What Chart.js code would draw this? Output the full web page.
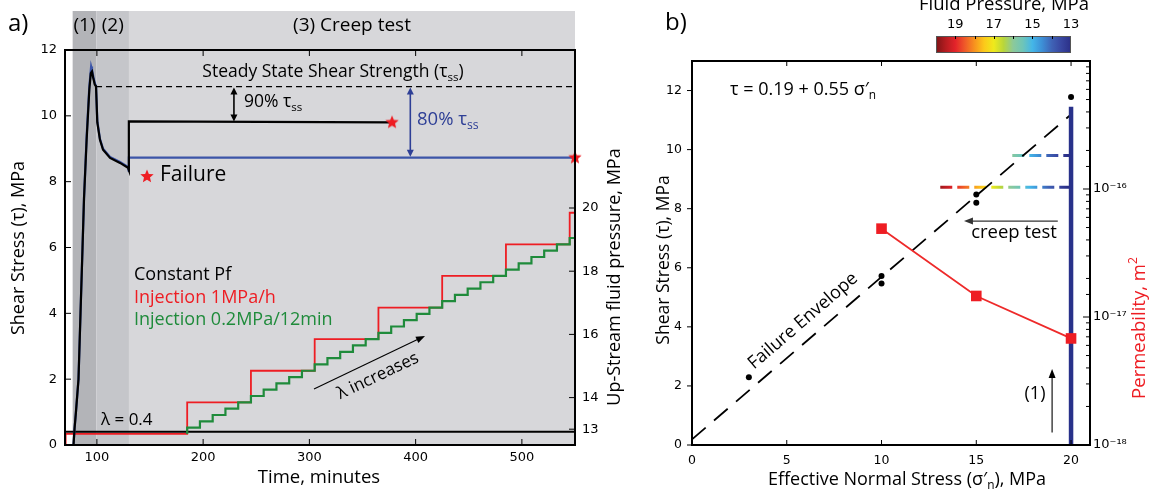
<!DOCTYPE html>
<html><head><meta charset="utf-8">
<script src="https://cdn.jsdelivr.net/npm/chart.js@4.4.1/dist/chart.umd.min.js"></script>
<style>html,body{margin:0;padding:0;background:#fff}body{width:1151px;height:494px;position:relative;overflow:hidden}canvas{position:absolute;top:0}#ca{left:0}#cb{left:640px}</style>
</head><body>
<canvas id="ca" width="640" height="494"></canvas>
<canvas id="cb" width="511" height="494"></canvas>
<script>
// ================= DATA : panel a =================
const phaseBounds = [77.2, 99.6, 130.2, 550];
const phaseLabels = ['(1)', '(2)', '(3) Creep test'];
const phaseColors = ['#b3b4b8', '#c5c6ca', '#d7d7da'];
const timeTicks = [100, 200, 300, 400, 500];
const tauTicksA = [0, 2, 4, 6, 8, 10, 12];
const pfTicks = [13, 14, 16, 18, 20];

const blackTime = [78.0, 79.0, 80.3, 82.7, 84.6, 86.5, 87.9, 90.4, 92.9, 94.3, 95.4, 96.6, 98.0, 99.2, 100.4, 102.9, 105.8, 112.4, 121.8, 129.3, 130.0, 130.2, 377.8];
const blackTau  = [0, 0.5, 1, 2, 4, 6, 7.5, 9.3, 10.8, 11.3, 11.35, 11.15, 10.95, 10.9, 9.8, 9.27, 8.97, 8.72, 8.57, 8.42, 8.35, 9.83, 9.8];
const blueTime  = [78.0, 79.0, 80.3, 82.7, 84.6, 86.5, 87.9, 90.4, 92.9, 94.6, 95.4, 96.6, 98.0, 99.2, 100.4, 102.9, 105.8, 112.4, 121.8, 129.3, 130.0, 130.2, 550];
const blueTau   = [0, 0.5, 1, 2, 4, 6, 7.5, 9.4, 10.9, 11.5, 11.4, 11.2, 11.0, 10.9, 9.85, 9.3, 9.0, 8.75, 8.6, 8.45, 8.3, 8.73, 8.73];

const ssTime = [99.2, 550];
const ssTau = [10.89, 10.89];
const constTime = [70, 550];
const constPf = [12.92, 12.92];
const redTime = [70.6, 70.6, 185, 245, 305, 365, 425, 485, 545, 550];
const redPf   = [12.5, 12.85, 13.85, 14.85, 15.85, 16.85, 17.85, 18.85, 19.85, 19.85];
const greenTime = [185, 185, 197, 209, 221, 233, 245, 257, 269, 281, 293, 305, 317, 329, 341, 353, 365, 377, 389, 401, 413, 425, 437, 449, 461, 473, 485, 497, 509, 521, 533, 545, 550];
const greenPf   = [12.85, 13.05, 13.25, 13.45, 13.65, 13.85, 14.05, 14.25, 14.45, 14.65, 14.85, 15.05, 15.25, 15.45, 15.65, 15.85, 16.05, 16.25, 16.45, 16.65, 16.85, 17.05, 17.25, 17.45, 17.65, 17.85, 18.05, 18.25, 18.45, 18.65, 18.85, 19.05, 19.05];
const starTime = [377.8, 550];
const starTau = [9.8, 8.73];
const arrow90 = { t: 229, from: 10.89, to: 9.8 };
const arrow80 = { t: 395, from: 10.89, to: 8.73 };

// ================= DATA : panel b =================
const sigmaTicks = [0, 5, 10, 15, 20];
const tauTicksB = [0, 2, 4, 6, 8, 10, 12];
const permLabelExps = [-16, -17, -18];
const failSigma = [3, 10, 10, 15, 15, 20];
const failTau = [2.29, 5.47, 5.72, 8.2, 8.48, 11.78];
const envSigma = [0, 20];
const envTau = [0.19, 11.19];
const loadSigma = [20, 20];
const loadTau = [0, 11.45];
const creep80Sigma = [13.1, 20];
const creep80Tau = [8.73, 8.73];
const creep90Sigma = [16.9, 20];
const creep90Tau = [9.8, 9.8];
const permSigma = [10, 15, 20];
const permVal = [4.9e-17, 1.46e-17, 6.8e-18];
const sigmaN = 32.8;
const cbTicks = [19, 17, 15, 13];
const cmapPf = [20, 19.5, 19, 18.5, 18, 17.5, 17, 16.5, 16, 15.5, 15, 14.5, 14, 13.5, 13];
const cmapColors = ['#7d1416', '#b51c20', '#e3232a', '#ef5a29', '#f7931e', '#fcc91a', '#eeea1c', '#b9d63a', '#8cc99a', '#6ec5b8', '#44b6e8', '#3d8fd6', '#3f63b6', '#3846a0', '#2b2f87'];

// ================= helpers =================
const zip = (xs, ys) => xs.map((x, i) => ({ x, y: ys[i] }));
const F = "'Open Sans', 'Noto Sans', sans-serif";
const TF = { family: "'DejaVu Sans', sans-serif", size: 13 };
const TFB = { family: "'DejaVu Sans', sans-serif", size: 12.5 };
const noGrid = { display: false, drawTicks: false, tickLength: 0 };

function rich(ctx, parts, x, y, size, color, align, angle) {
  ctx.save(); ctx.translate(x, y); if (angle) ctx.rotate(angle);
  let w = 0;
  const segs = parts.map(p => {
    const t = Array.isArray(p) ? p[0] : p, k = Array.isArray(p) ? (p[1] || '') : '';
    const s = k ? size * 0.66 : size;
    ctx.font = s + 'px ' + F;
    const m = ctx.measureText(t).width; w += m;
    return { t, k, s, m };
  });
  let cx = align === 'center' ? -w / 2 : align === 'right' ? -w : 0;
  ctx.fillStyle = color; ctx.textBaseline = 'middle'; ctx.textAlign = 'left';
  for (const g of segs) {
    ctx.font = g.s + 'px ' + F;
    const dy = g.k === 'sub' ? size * 0.3 : g.k === 'sup' ? -size * 0.35 : 0;
    ctx.fillText(g.t, cx, dy); cx += g.m;
  }
  ctx.restore();
}
function head(ctx, x1, y1, x2, y2, L, W) {
  const a = Math.atan2(y2 - y1, x2 - x1);
  ctx.beginPath();
  ctx.moveTo(x2, y2);
  ctx.lineTo(x2 - L * Math.cos(a) + W * Math.sin(a), y2 - L * Math.sin(a) - W * Math.cos(a));
  ctx.lineTo(x2 - L * Math.cos(a) - W * Math.sin(a), y2 - L * Math.sin(a) + W * Math.cos(a));
  ctx.closePath(); ctx.fill();
}
function arrow(ctx, x1, y1, x2, y2, color, lw, both, L, W) {
  L = L || 8; W = W || 3.5;
  ctx.save(); ctx.strokeStyle = color; ctx.fillStyle = color; ctx.lineWidth = lw;
  const a = Math.atan2(y2 - y1, x2 - x1);
  const sx = both ? x1 + L * 0.8 * Math.cos(a) : x1, sy = both ? y1 + L * 0.8 * Math.sin(a) : y1;
  ctx.beginPath(); ctx.moveTo(sx, sy); ctx.lineTo(x2 - L * 0.8 * Math.cos(a), y2 - L * 0.8 * Math.sin(a)); ctx.stroke();
  head(ctx, x1, y1, x2, y2, L, W);
  if (both) head(ctx, x2, y2, x1, y1, L, W);
  ctx.restore();
}
function starPath(ctx, cx, cy, r) {
  ctx.beginPath();
  for (let i = 0; i < 10; i++) {
    const rr = i % 2 ? r * 0.45 : r, a = -Math.PI / 2 + i * Math.PI / 5;
    ctx.lineTo(cx + rr * Math.cos(a), cy + rr * Math.sin(a));
  }
  ctx.closePath();
}
function starImage(r, color) {
  const c = document.createElement('canvas'); c.width = c.height = 2 * r + 2;
  const g = c.getContext('2d'); g.fillStyle = color; starPath(g, r + 1, r + 1, r); g.fill();
  return c;
}

const tickMarks = {
  id: 'tickMarks',
  afterDraw(chart, args, opts) {
    const ctx = chart.ctx, a = chart.chartArea;
    ctx.save(); ctx.strokeStyle = '#000'; ctx.lineWidth = 1;
    for (const sp of opts.specs) {
      const s = chart.scales[sp.id];
      for (const t of s.ticks) {
        let p = s.getPixelForValue(t.value);
        let len = sp.len;
        if (sp.log) { const lg = Math.log10(t.value); if (Math.abs(lg - Math.round(lg)) > 1e-6) len = sp.minorLen; }
        const d = sp.inward ? 1 : -1;
        ctx.beginPath();
        if (sp.edge === 'bottom') { if (p < a.left + 1 || p > a.right - 1) continue; ctx.moveTo(p, a.bottom); ctx.lineTo(p, a.bottom - d * len); }
        if (sp.edge === 'top') { if (p < a.left + 1 || p > a.right - 1) continue; ctx.moveTo(p, a.top); ctx.lineTo(p, a.top + d * len); }
        if (sp.edge === 'left') { if (p < a.top - 0.5 || p > a.bottom + 0.5) continue; ctx.moveTo(a.left, p); ctx.lineTo(a.left + d * len, p); }
        if (sp.edge === 'right') { if (p < a.top + 1 || p > a.bottom + 0.5) continue; ctx.moveTo(a.right, p); ctx.lineTo(a.right - d * len, p); }
        ctx.stroke();
      }
    }
    ctx.lineWidth = opts.frame || 2;
    ctx.strokeRect(a.left, a.top, a.right - a.left, a.bottom - a.top);
    ctx.restore();
  }
};

// ================= panel a =================
const shadeA = {
  id: 'shadeA',
  beforeDraw(chart) {
    const ctx = chart.ctx, x = chart.scales.x, a = chart.chartArea;
    ctx.save();
    for (let i = 0; i < phaseLabels.length; i++) {
      const x1 = x.getPixelForValue(phaseBounds[i]), x2 = x.getPixelForValue(phaseBounds[i + 1]);
      ctx.fillStyle = phaseColors[i];
      ctx.fillRect(x1, 11, x2 - x1, a.bottom - 11);
    }
    ctx.restore();
  }
};
const annA = {
  id: 'annA',
  afterDraw(chart) {
    const ctx = chart.ctx, x = chart.scales.x, y = chart.scales.y;
    rich(ctx, ['a)'], 8, 24, 24, '#000', 'left');
    for (let i = 0; i < phaseLabels.length; i++) {
      const cx = (x.getPixelForValue(phaseBounds[i]) + x.getPixelForValue(phaseBounds[i + 1])) / 2;
      rich(ctx, [phaseLabels[i]], cx, 26, 19, '#000', 'center');
    }
    rich(ctx, [['Steady State Shear Strength (τ'], ['ss', 'sub'], [')']], 333, 72, 17.5, '#000', 'center');
    const ax9 = x.getPixelForValue(arrow90.t);
    arrow(ctx, ax9, y.getPixelForValue(arrow90.from) + 1, ax9, y.getPixelForValue(arrow90.to) - 1, '#000', 1.6, true, 7, 3.5);
    rich(ctx, [['90% τ'], ['ss', 'sub']], 244, 102, 17.5, '#000', 'left');
    const ax8 = x.getPixelForValue(arrow80.t);
    arrow(ctx, ax8, y.getPixelForValue(arrow80.from) + 1, ax8, y.getPixelForValue(arrow80.to) - 1, '#2e3f96', 1.6, true, 7, 3.5);
    rich(ctx, [['80% τ'], ['ss', 'sub']], 417, 120, 18.5, '#2e3f96', 'left');
    ctx.save(); ctx.fillStyle = '#ee1d23'; starPath(ctx, 147, 176.5, 7); ctx.fill(); ctx.restore();
    rich(ctx, ['Failure'], 160, 175, 21, '#000', 'left');
    rich(ctx, ['Constant Pf'], 134, 275, 18, '#000', 'left');
    rich(ctx, ['Injection 1MPa/h'], 134, 297.5, 18, '#ee1d23', 'left');
    rich(ctx, ['Injection 0.2MPa/12min'], 134, 320, 18, '#1f8b3b', 'left');
    arrow(ctx, 314, 389, 425, 336, '#000', 1.1, false, 9, 3.5);
    rich(ctx, ['λ increases'], 378, 376, 17, '#000', 'center', -0.445);
    rich(ctx, ['λ = 0.4'], 101, 420, 17, '#000', 'left');
    rich(ctx, ['Shear Stress (τ), MPa'], 19, 248, 18, '#000', 'center', -Math.PI / 2);
    rich(ctx, ['Time, minutes'], 319, 478, 18.5, '#000', 'center');
    rich(ctx, ['Up-Stream fluid pressure, MPa'], 615, 277, 18, '#000', 'center', -Math.PI / 2);
  }
};

// datasets: first in the list is drawn on top
new Chart(document.getElementById('ca'), {
  type: 'line',
  data: { datasets: [
    { data: zip(starTime, starTau), yAxisID: 'y', showLine: false, pointStyle: starImage(7, '#ee1d23'), pointRadius: 7, clip: false },
    { data: zip(blackTime, blackTau), yAxisID: 'y', borderColor: '#000', borderWidth: 2.2, pointRadius: 0 },
    { data: zip(blueTime, blueTau), yAxisID: 'y', borderColor: '#3c55a8', borderWidth: 2.2, pointRadius: 0 },
    { data: zip(ssTime, ssTau), yAxisID: 'y', borderColor: '#000', borderWidth: 1.3, borderDash: [6, 4], pointRadius: 0 },
    { data: zip(greenTime, greenPf), yAxisID: 'y2', stepped: true, borderColor: '#1f8b3b', borderWidth: 2.2, pointRadius: 0 },
    { data: zip(redTime, redPf), yAxisID: 'y2', stepped: true, borderColor: '#ee1d23', borderWidth: 1.8, pointRadius: 0 },
    { data: zip(constTime, constPf), yAxisID: 'y2', borderColor: '#000', borderWidth: 1.8, pointRadius: 0 }
  ] },
  options: {
    responsive: false, animation: false, events: [],
    layout: { padding: { top: 50, left: 0, right: 0, bottom: 0 } },
    plugins: { legend: { display: false }, tooltip: { enabled: false },
      tickMarks: { frame: 2, specs: [
        { id: 'x', edge: 'bottom', len: 6, inward: true }, { id: 'x', edge: 'top', len: 6, inward: true },
        { id: 'y', edge: 'left', len: 6, inward: true }, { id: 'y2', edge: 'right', len: 6, inward: true } ] } },
    scales: {
      x: { type: 'linear', min: 70, max: 550, afterBuildTicks: s => { s.ticks = timeTicks.map(v => ({ value: v })); },
        afterFit: s => { s.height = 49; s.paddingLeft = 0; s.paddingRight = 0; },
        grid: noGrid, border: { display: false }, ticks: { font: TF, color: '#000', padding: 5, maxRotation: 0, autoSkip: false } },
      y: { min: 0, max: 12, afterBuildTicks: s => { s.ticks = tauTicksA.map(v => ({ value: v })); }, afterFit: s => { s.width = 65; },
        grid: noGrid, border: { display: false }, ticks: { font: TF, color: '#000', padding: 8, autoSkip: false } },
      y2: { position: 'right', min: 12.5, max: 25, afterBuildTicks: s => { s.ticks = pfTicks.map(v => ({ value: v })); }, afterFit: s => { s.width = 65; },
        grid: noGrid, border: { display: false }, ticks: { font: TF, color: '#000', padding: 7, autoSkip: false } }
    }
  },
  plugins: [shadeA, tickMarks, annA]
});

// ================= panel b =================
const sup = { '-': '⁻', '0': '⁰', '1': '¹', '2': '²', '3': '³', '4': '⁴', '5': '⁵', '6': '⁶', '7': '⁷', '8': '⁸', '9': '⁹' };
const creepColor = (c) => {
  const ch = c.chart, xs = ch.scales.x;
  if (!xs || !ch.chartArea) return '#3846a0';
  const x0 = xs.getPixelForValue(12), x1 = xs.getPixelForValue(21);
  const g = ch.ctx.createLinearGradient(x0, 0, x1, 0);
  for (let i = 0; i < cmapPf.length; i++) g.addColorStop((sigmaN - cmapPf[i] - 12) / 9, cmapColors[i]);
  return g;
};
const annB = {
  id: 'annB',
  afterDraw(chart) {
    const ctx = chart.ctx, x = chart.scales.x, y = chart.scales.y;
    rich(ctx, ['b)'], 25, 23, 24, '#000', 'left');
    // colour bar (legend of the fluid-pressure colours)
    const bx0 = 296, bx1 = 431, by0 = 36, by1 = 53;
    const pfToX = pf => bx0 + (cmapPf[0] - pf) / (cmapPf[0] - cmapPf[cmapPf.length - 1]) * (bx1 - bx0);
    const g = ctx.createLinearGradient(bx0, 0, bx1, 0);
    for (let i = 0; i < cmapPf.length; i++) g.addColorStop((pfToX(cmapPf[i]) - bx0) / (bx1 - bx0), cmapColors[i]);
    ctx.save();
    ctx.fillStyle = g; ctx.fillRect(bx0, by0, bx1 - bx0, by1 - by0);
    ctx.strokeStyle = '#555'; ctx.lineWidth = 1; ctx.strokeRect(bx0 + 0.5, by0 + 0.5, bx1 - bx0 - 1, by1 - by0 - 1);
    ctx.strokeStyle = '#000';
    for (let pf = 19; pf >= 14; pf--) { const px = Math.round(pfToX(pf)) + 0.5; ctx.beginPath(); ctx.moveTo(px, by0); ctx.lineTo(px, by0 + 3); ctx.stroke(); }
    ctx.fillStyle = '#000'; ctx.font = '13px ' + TF.family; ctx.textAlign = 'center'; ctx.textBaseline = 'middle';
    for (const t of cbTicks) ctx.fillText(String(t), pfToX(t), 25);
    ctx.restore();
    rich(ctx, ['Fluid Pressure, MPa'], 364, 5, 18.5, '#000', 'center');
    rich(ctx, [['τ = 0.19 + 0.55 σ′'], ['n', 'sub']], 90, 90, 18, '#000', 'left');
    arrow(ctx, x.getPixelForValue(19.3), y.getPixelForValue(7.58), x.getPixelForValue(14.35), y.getPixelForValue(7.58), '#333', 1.3, false, 9, 3.5);
    rich(ctx, ['creep test'], 374, 233, 18.5, '#000', 'center');
    arrow(ctx, x.getPixelForValue(19.0), y.getPixelForValue(0.42), x.getPixelForValue(19.0), y.getPixelForValue(2.57), '#000', 1.1, false, 9, 3.5);
    rich(ctx, ['(1)'], 395, 394, 18, '#000', 'center');
    const ang = Math.atan2(y.getPixelForValue(envTau[1]) - y.getPixelForValue(envTau[0]), x.getPixelForValue(envSigma[1]) - x.getPixelForValue(envSigma[0]));
    rich(ctx, ['Failure Envelope'], 163, 321, 18, '#000', 'center', ang);
    rich(ctx, ['Shear Stress (τ), MPa'], 24, 260, 17.5, '#000', 'center', -Math.PI / 2);
    rich(ctx, [['Effective Normal Stress (σ′'], ['n', 'sub'], ['), MPa']], 267, 480, 18, '#000', 'center');
    rich(ctx, [['Permeability, m'], ['2', 'sup']], 500, 328, 18.5, '#ee1d23', 'center', -Math.PI / 2);
  }
};

new Chart(document.getElementById('cb'), {
  type: 'line',
  data: { datasets: [
    { data: zip(permSigma, permVal), yAxisID: 'y2', borderColor: '#ee2a2a', borderWidth: 1.8, pointStyle: 'rect', pointRadius: 7.5, backgroundColor: '#ee1d23', pointBorderWidth: 0, clip: false },
    { data: zip(failSigma, failTau), yAxisID: 'y', showLine: false, pointStyle: 'circle', pointRadius: 3, backgroundColor: '#000', borderColor: '#000', borderWidth: 0, clip: false },
    { data: zip(loadSigma, loadTau), yAxisID: 'y', borderColor: '#28318a', borderWidth: 4.5, pointRadius: 0 },
    { data: zip(envSigma, envTau), yAxisID: 'y', borderColor: '#000', borderWidth: 1.8, borderDash: [18, 11], pointRadius: 0 },
    { data: zip(creep90Sigma, creep90Tau), yAxisID: 'y', borderColor: creepColor, borderWidth: 3, borderDash: [12, 5], pointRadius: 0 },
    { data: zip(creep80Sigma, creep80Tau), yAxisID: 'y', borderColor: creepColor, borderWidth: 3, borderDash: [12, 5], pointRadius: 0 }
  ] },
  options: {
    responsive: false, animation: false, events: [],
    layout: { padding: { top: 61, left: 0, right: 0, bottom: 0 } },
    plugins: { legend: { display: false }, tooltip: { enabled: false },
      tickMarks: { frame: 2, specs: [
        { id: 'x', edge: 'bottom', len: 5, inward: true }, { id: 'x', edge: 'top', len: 5, inward: true },
        { id: 'y', edge: 'left', len: 5, inward: false },
        { id: 'y2', edge: 'right', len: 7, minorLen: 4, log: true, inward: true } ] } },
    scales: {
      x: { type: 'linear', min: 0, max: 21, afterBuildTicks: s => { s.ticks = sigmaTicks.map(v => ({ value: v })); },
        afterFit: s => { s.height = 49; s.paddingLeft = 0; s.paddingRight = 0; },
        grid: noGrid, border: { display: false }, ticks: { font: TFB, color: '#000', padding: 8, maxRotation: 0, autoSkip: false } },
      y: { min: 0, max: 13, afterBuildTicks: s => { s.ticks = tauTicksB.map(v => ({ value: v })); }, afterFit: s => { s.width = 52; },
        grid: noGrid, border: { display: false }, ticks: { font: TFB, color: '#000', padding: 10, autoSkip: false } },
      y2: { type: 'logarithmic', position: 'right', min: 1e-18, max: 1e-15, afterFit: s => { s.width = 61; },
        grid: noGrid, border: { display: false },
        ticks: { font: TF, color: '#000', padding: 3, autoSkip: false,
          callback: v => { const lg = Math.round(Math.log10(v)); if (Math.abs(Math.log10(v) - lg) > 1e-6 || !permLabelExps.includes(lg)) return ''; return '10' + String(lg).split('').map(c => sup[c]).join(''); } } }
    }
  },
  plugins: [tickMarks, annB]
});
</script></body></html>
